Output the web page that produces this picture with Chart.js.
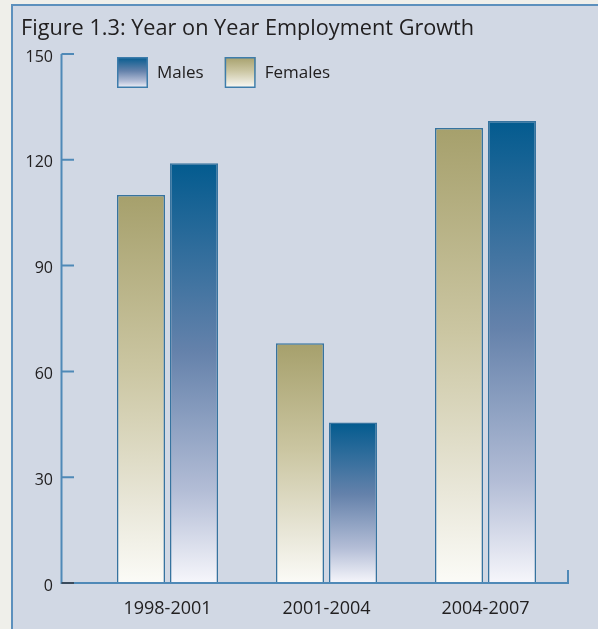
<!DOCTYPE html>
<html>
<head>
<meta charset="utf-8">
<title>Year on Year Employment Growth</title>
<script src="https://cdn.jsdelivr.net/npm/chart.js@4.4.1/dist/chart.umd.min.js"></script>
<style>
  html, body { margin: 0; padding: 0; background: #efefea; }
  #panel {
    position: absolute; left: 11px; top: 4px; right: 0; bottom: 0;
    box-sizing: border-box;
    background: #d1d8e4;
    border-top: 2px solid #5c90bd;
    border-left: 2px solid #5c90bd;
  }
  #growthChart { position: absolute; left: 0; top: 0; }
</style>
</head>
<body>
<div id="panel"></div>
<canvas id="growthChart" width="598" height="629"></canvas>
<script>
/* ---------- data ---------- */
const periods = ["1998-2001", "2001-2004", "2004-2007"];
const femalesGrowth = [110, 68, 129];
const malesGrowth = [119, 45.5, 131];
const yMin = 0;
const yMax = 150;
const yStep = 30;

/* ---------- styling ---------- */
const FONT = "'Open Sans', 'Noto Sans', sans-serif";
const TEXT = "#222021";
const AXIS = "#4f89b7";

const femaleStops = [[0, "#a6a06c"], [0.45, "#cbc6a2"], [0.8, "#e9e7d9"], [1, "#fbfbf7"]];
const maleStops = [[0, "#035b8f"], [0.45, "#6582ab"], [0.78, "#b3bdd6"], [1, "#f6f6fb"]];

function makeGradient(ctx, top, bottom, stops) {
  const g = ctx.createLinearGradient(0, top, 0, bottom);
  stops.forEach(s => g.addColorStop(s[0], s[1]));
  return g;
}

// each bar fades from its own top down to the baseline
function barFill(stops) {
  return (c) => {
    const chart = c.chart;
    if (c.type !== "data" || !chart.chartArea) return stops[0][1];
    const y = chart.scales.y;
    return makeGradient(chart.ctx, y.getPixelForValue(c.raw), y.getPixelForValue(0), stops);
  };
}

/* ---------- axes drawn by hand (offset left of the plot) ---------- */
const axisLines = {
  id: "axisLines",
  afterDatasetsDraw(chart) {
    const { ctx, scales: { x, y } } = chart;
    const axisX = 61.5;
    const base = y.getPixelForValue(0);
    ctx.save();
    ctx.lineWidth = 2;
    ctx.strokeStyle = AXIS;
    ctx.beginPath();
    ctx.moveTo(axisX, y.getPixelForValue(yMax));
    ctx.lineTo(axisX, base);
    ctx.lineTo(x.right + 3, base);
    ctx.lineTo(x.right + 3, base - 13);
    y.ticks.forEach(t => {
      if (t.value === 0) return;
      const py = y.getPixelForValue(t.value);
      ctx.moveTo(axisX, py);
      ctx.lineTo(axisX + 12.5, py);
    });
    ctx.stroke();
    // zero tick is darker
    ctx.strokeStyle = "#3a4b5c";
    ctx.beginPath();
    ctx.moveTo(axisX, base);
    ctx.lineTo(axisX + 12.5, base);
    ctx.stroke();
    ctx.restore();
  }
};

/* ---------- legend with gradient swatches ---------- */
const legendBoxes = {
  id: "legendBoxes",
  afterDraw(chart) {
    const ctx = chart.ctx;
    const top = 57, size = 31;
    let left = 117;
    ctx.save();
    ctx.font = "17px " + FONT;
    ctx.textBaseline = "middle";
    [1, 0].forEach(i => {
      const ds = chart.data.datasets[i];
      ctx.fillStyle = makeGradient(ctx, top, top + size, ds.stops);
      ctx.fillRect(left, top, size, size);
      ctx.strokeStyle = "#3d7cab";
      ctx.lineWidth = 1.5;
      ctx.strokeRect(left + 0.75, top + 0.75, size - 1.5, size - 1.5);
      ctx.fillStyle = TEXT;
      ctx.fillText(ds.label, left + size + 9, top + size / 2 + 1);
      left += size + 9 + ctx.measureText(ds.label).width + 21;
    });
    ctx.restore();
  }
};

new Chart(document.getElementById("growthChart"), {
  type: "bar",
  data: {
    labels: periods,
    datasets: [
      {
        label: "Females",
        data: femalesGrowth,
        stops: femaleStops,
        backgroundColor: barFill(femaleStops),
        borderColor: "#36739f",
        borderWidth: 1.5,
        categoryPercentage: 0.667,
        barPercentage: 0.906
      },
      {
        label: "Males",
        data: malesGrowth,
        stops: maleStops,
        backgroundColor: barFill(maleStops),
        borderColor: "#36739f",
        borderWidth: 1.5,
        categoryPercentage: 0.667,
        barPercentage: 0.906
      }
    ]
  },
  options: {
    responsive: false,
    devicePixelRatio: 1,
    animation: false,
    layout: { padding: { left: 21, right: 33, top: 0, bottom: 0 } },
    plugins: {
      legend: { display: false },
      tooltip: { enabled: false },
      title: {
        display: true,
        text: "Figure 1.3: Year on Year Employment Growth",
        align: "start",
        color: TEXT,
        font: { family: FONT, size: 21.7, weight: "normal", lineHeight: 1.2 },
        padding: { top: 16, bottom: 12 }
      }
    },
    scales: {
      x: {
        grid: { display: false, drawTicks: false },
        border: { display: false },
        ticks: { color: TEXT, font: { family: FONT, size: 18 }, padding: 15 },
        afterFit: s => { s.height = 46; }
      },
      y: {
        min: yMin,
        max: yMax,
        grid: { display: false, drawTicks: false },
        border: { display: false },
        ticks: {
          stepSize: yStep,
          color: TEXT,
          padding: 35,
          labelOffset: 3,
          font: { family: FONT, size: 16 }
        },
        afterFit: s => { s.width = 67; }
      }
    }
  },
  plugins: [axisLines, legendBoxes]
});
</script>
</body>
</html>
